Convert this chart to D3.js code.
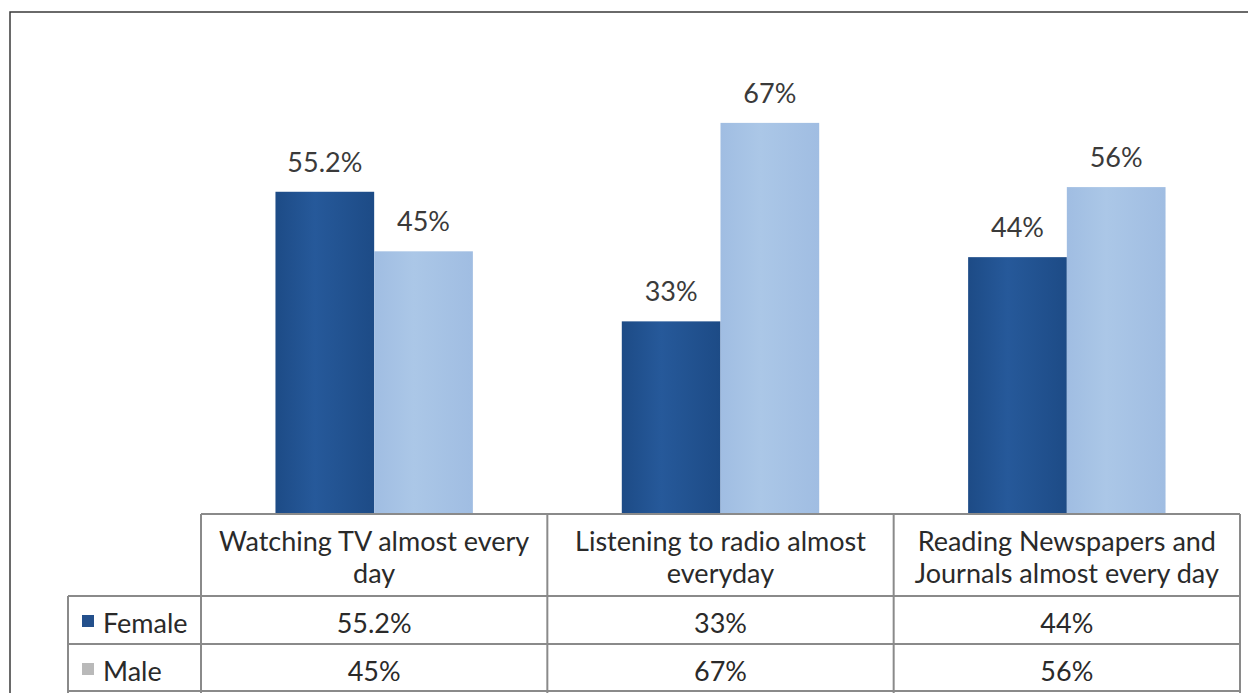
<!DOCTYPE html>
<html>
<head>
<meta charset="utf-8">
<script src="https://cdn.jsdelivr.net/npm/d3@7"></script>
<style>
  html, body { margin: 0; padding: 0; background: #fff; }
  svg { display: block; }
  text { font-family: Lato, "Open Sans", sans-serif; }
</style>
</head>
<body>
<svg id="chart" width="1248" height="693"></svg>
<script>
// Media habits by gender (percent doing each activity almost every day)
const categories = [
  ["Watching TV almost every", "day"],
  ["Listening to radio almost", "everyday"],
  ["Reading Newspapers and", "Journals almost every day"]
];
const seriesNames = ["Female", "Male"];
const female = [55.2, 33, 44];
const male = [45, 67, 56];
const seriesValues = [female, male];

const W = 1248, H = 693;
const svg = d3.select("#chart");

// layout
const frame = { x: 10, y: 12 };
const table = { left: 68, plotLeft: 201, right: 1240, top: 514, headerBottom: 596, rowH: 48 };
const yTop = 47;
const fontSize = 27;

const colors = { Female: ["#1d4b86", "#26599a"], Male: ["#a0bde2", "#abc7e7"] };
const legendColors = { Female: "#24508c", Male: "#b9b9b9" };

// gradients (slightly darker edges)
const defs = svg.append("defs");
seriesNames.forEach(name => {
  const g = defs.append("linearGradient").attr("id", "grad-" + name)
    .attr("x1", "0%").attr("x2", "100%").attr("y1", "0%").attr("y2", "0%");
  g.append("stop").attr("offset", "0%").attr("stop-color", colors[name][0]);
  g.append("stop").attr("offset", "40%").attr("stop-color", colors[name][1]);
  g.append("stop").attr("offset", "100%").attr("stop-color", colors[name][0]);
});

// scales
const x = d3.scaleBand()
  .domain(d3.range(categories.length))
  .range([table.plotLeft, table.right])
  .paddingInner(0).paddingOuter(0);
const groupWidth = x.bandwidth() * 0.57;
const xs = d3.scaleBand()
  .domain(seriesNames)
  .range([0, groupWidth]);
const y = d3.scaleLinear().domain([0, 80]).range([table.top, yTop]);

// outer frame (top and left edges visible)
svg.append("path")
  .attr("d", `M${frame.x},${H} L${frame.x},${frame.y} L${W},${frame.y}`)
  .attr("fill", "none").attr("stroke", "#3a3a3a").attr("stroke-width", 1.5);

// bars
const groups = svg.append("g").selectAll("g")
  .data(categories.map((c, i) => i))
  .join("g")
  .attr("transform", i => `translate(${x(i) + (x.bandwidth() - groupWidth) / 2},0)`);

const barData = i => seriesNames.map((name, s) => ({ name, value: seriesValues[s][i] }));

groups.selectAll("rect")
  .data(barData)
  .join("rect")
  .attr("x", d => xs(d.name))
  .attr("y", d => y(d.value))
  .attr("width", xs.bandwidth())
  .attr("height", d => y(0) - y(d.value))
  .attr("fill", d => `url(#grad-${d.name})`);

// value labels above bars
groups.selectAll("text.val")
  .data(barData)
  .join("text")
  .attr("class", "val")
  .attr("x", d => xs(d.name) + xs.bandwidth() / 2)
  .attr("y", d => y(d.value) - 20)
  .attr("text-anchor", "middle")
  .attr("font-size", fontSize)
  .attr("fill", "#3a3a3a")
  .text(d => `${d.value}%`);

// data table below the plot
const grid = svg.append("g").attr("stroke", "#8a8a8a").attr("stroke-width", 2).attr("fill", "none");
const rowTops = [table.headerBottom, table.headerBottom + table.rowH];
const tableBottom = table.headerBottom + 2 * table.rowH;
grid.append("line").attr("x1", table.plotLeft).attr("x2", table.right).attr("y1", table.top).attr("y2", table.top);
[...rowTops, tableBottom - 1].forEach(yy =>
  grid.append("line").attr("x1", table.left).attr("x2", table.right).attr("y1", yy).attr("y2", yy));
grid.append("line").attr("x1", table.left).attr("x2", table.left).attr("y1", table.headerBottom).attr("y2", H);
d3.range(categories.length + 1).forEach(i => {
  const xx = i < categories.length ? x(i) : table.right;
  grid.append("line").attr("x1", xx).attr("x2", xx).attr("y1", table.top).attr("y2", H);
});

// header cells
const header = svg.append("g");
categories.forEach((lines, i) => {
  header.append("text")
    .attr("x", x(i) + x.bandwidth() / 2)
    .attr("y", 551)
    .attr("text-anchor", "middle")
    .attr("font-size", fontSize)
    .attr("fill", "#2a2a2a")
    .selectAll("tspan")
    .data(lines)
    .join("tspan")
    .attr("x", x(i) + x.bandwidth() / 2)
    .attr("dy", (d, k) => k === 0 ? 0 : 32)
    .text(d => d);
});

// series rows: legend key, name, values
seriesNames.forEach((name, s) => {
  const baseline = rowTops[s] + 37;
  svg.append("rect")
    .attr("x", 82).attr("y", baseline - 18)
    .attr("width", 12).attr("height", 12)
    .attr("fill", legendColors[name]);
  svg.append("text")
    .attr("x", 103).attr("y", baseline)
    .attr("font-size", fontSize)
    .attr("fill", "#2a2a2a")
    .text(name);
  seriesValues[s].forEach((v, i) => {
    svg.append("text")
      .attr("x", x(i) + x.bandwidth() / 2)
      .attr("y", baseline)
      .attr("text-anchor", "middle")
      .attr("font-size", fontSize)
      .attr("fill", "#2a2a2a")
      .text(`${v}%`);
  });
});
</script>
</body>
</html>
